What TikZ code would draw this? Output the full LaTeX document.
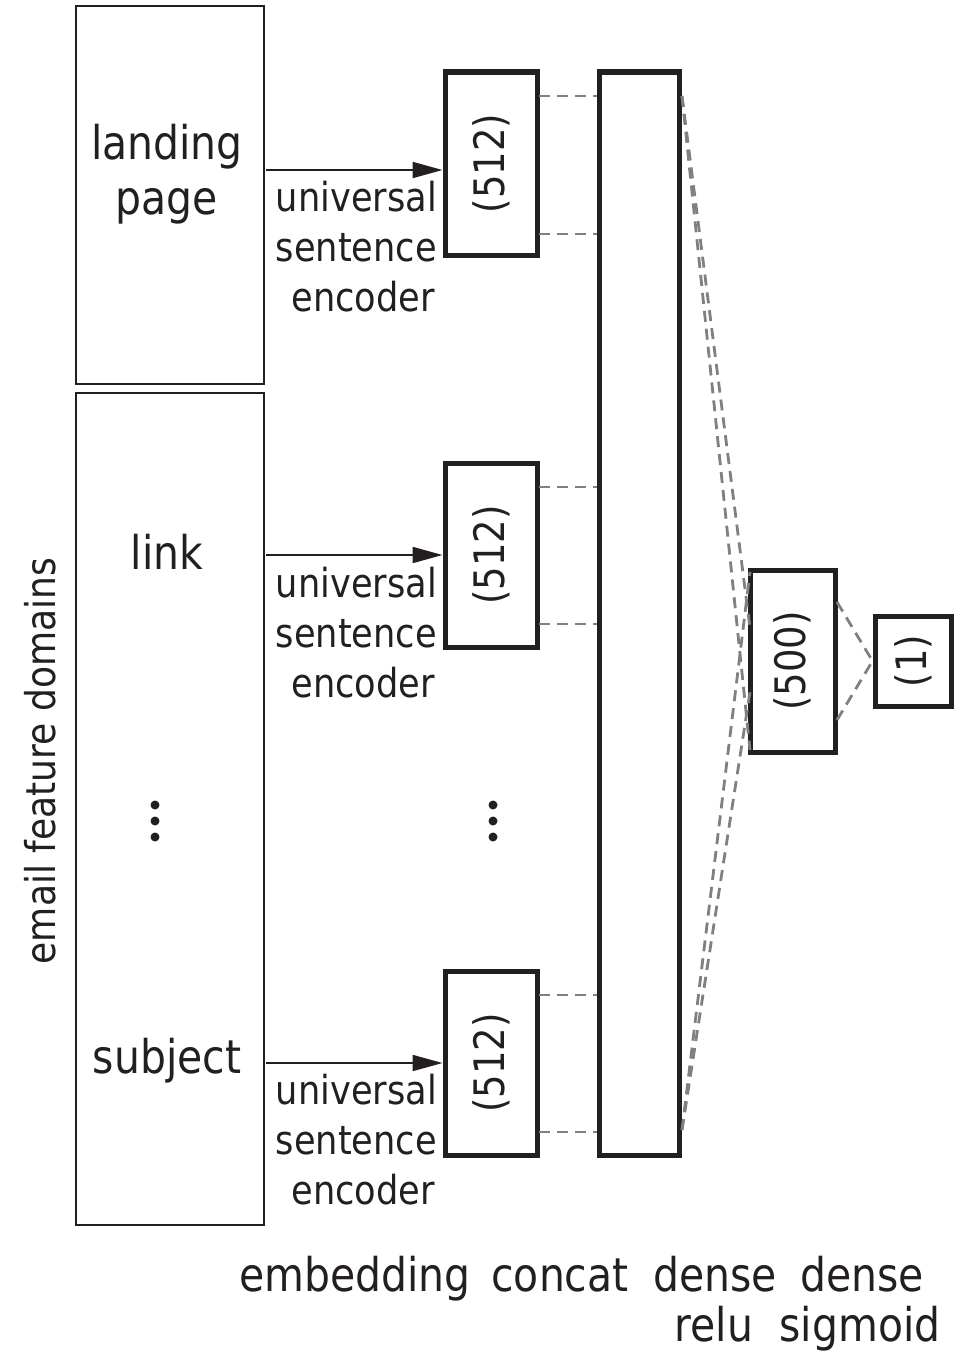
\documentclass[tikz,border=0pt]{standalone}
\usepackage{fontspec}
\setmainfont{DejaVu Sans}[FakeStretch=0.88]
\usetikzlibrary{arrows.meta}
\definecolor{ink}{HTML}{231F20}
\definecolor{dashgray}{HTML}{808080}
\begin{document}
\begin{tikzpicture}[x=1pt,y=-1pt,
  inbox/.style={draw=ink,line width=2.4pt,inner sep=0pt},
  layer/.style={draw=ink,line width=5pt,inner sep=0pt},
  big/.style={text=ink,font=\fontsize{46.5}{55}\selectfont,inner sep=0pt},
  mid/.style={text=ink,font=\fontsize{40}{50}\selectfont,inner sep=0pt},
  num/.style={text=ink,font=\fontsize{42}{50}\selectfont,inner sep=0pt,rotate=90},
  enc/.style={mid,anchor=base east},
  arr/.style={draw=ink,line width=2pt,-{Triangle[length=30pt,width=16pt]}},
  conn/.style={draw=dashgray,line width=2.8pt,dash pattern=on 11pt off 7pt},
  dot/.style={fill=ink,draw=none,circle,minimum size=9pt,inner sep=0pt}]
\useasboundingbox (0,0) rectangle (954,1354);
% input boxes
\draw[inbox] (76,6) rectangle (264,384);
\draw[inbox] (76,393) rectangle (264,1225);
\node[big,anchor=base] (landing) at (167,159) {landing};
\node[big,anchor=base] (page) at (167,214) {page};
\node[big,anchor=base] (link) at (167,569) {link};
\node[big,anchor=base] (subject) at (167,1073) {subject};
\node[dot] (d1) at (155,805) {};
\node[dot] (d2) at (155,821) {};
\node[dot] (d3) at (155,837) {};
\node[text=ink,font=\fontsize{41}{50}\selectfont,inner sep=0pt,rotate=90] (efd) at (40,761) {email feature domains};
% embeddings
\node[layer,minimum width=92pt,minimum height=183pt] (e1) at (491,163.5) {};
\node[layer,minimum width=92pt,minimum height=184pt] (e2) at (491,555) {};
\node[layer,minimum width=92pt,minimum height=184pt] (e3) at (491,1063) {};
\node[num] at (e1) {(512)};
\node[num] at (e2) {(512)};
\node[num] at (e3) {(512)};
\node[dot] (d4) at (493,805) {};
\node[dot] (d5) at (493,821) {};
\node[dot] (d6) at (493,837) {};
% arrows
\coordinate (a1) at (266,170);
\coordinate (a2) at (266,555);
\coordinate (a3) at (266,1063);
\draw[arr] (a1) -- (e1.west |- a1);
\draw[arr] (a2) -- (e2.west |- a2);
\draw[arr] (a3) -- (e3.west |- a3);
\node[enc] (u1a) at (437,211) {universal};
\node[enc] (u1b) at (437,261) {sentence};
\node[enc] (u1c) at (435,311) {encoder};
\node[enc] (u2a) at (437,597) {universal};
\node[enc] (u2b) at (437,647) {sentence};
\node[enc] (u2c) at (435,697) {encoder};
\node[enc] (u3a) at (437,1104) {universal};
\node[enc] (u3b) at (437,1154) {sentence};
\node[enc] (u3c) at (435,1204) {encoder};
% concat
\node[layer,minimum width=80pt,minimum height=1083pt] (cc) at (639,613.5) {};
% dense
\node[layer,minimum width=85pt,minimum height=182pt] (dn) at (792.5,661) {};
\node[num] at (dn) {(500)};
\node[layer,minimum width=76pt,minimum height=90pt] (out) at (913,661) {};
\node[num] at (out) {(1)};
% dashed connections embedding -> concat
\draw[conn] (539,96) -- (cc.west |- 0,96);
\draw[conn] (539,234) -- (cc.west |- 0,234);
\draw[conn] (539,487) -- (cc.west |- 0,487);
\draw[conn] (539,624) -- (cc.west |- 0,624);
\draw[conn] (539,995) -- (cc.west |- 0,995);
\draw[conn] (539,1132) -- (cc.west |- 0,1132);
% concat -> dense
\coordinate (ct) at (682,96);
\coordinate (cb) at (682,1130);
\draw[conn] (ct) -- (750,628);
\draw[conn] (ct) -- (750,750);
\draw[conn] (cb) -- (750,572);
\draw[conn] (cb) -- (750,692);
% dense -> out
\draw[conn] (837,602) -- (out.west);
\draw[conn] (837,720) -- (out.west);
% bottom labels
\node[big,anchor=base] (l1) at (355,1291) {embedding};
\node[big,anchor=base] (l2) at (560,1291) {concat};
\node[big,anchor=base] (l3) at (715,1291) {dense};
\node[big,anchor=base] (l4) at (862,1291) {dense};
\node[big,anchor=base] (l5) at (714,1341) {relu};
\node[big,anchor=base] (l6) at (860,1341) {sigmoid};
\end{tikzpicture}
\end{document}
